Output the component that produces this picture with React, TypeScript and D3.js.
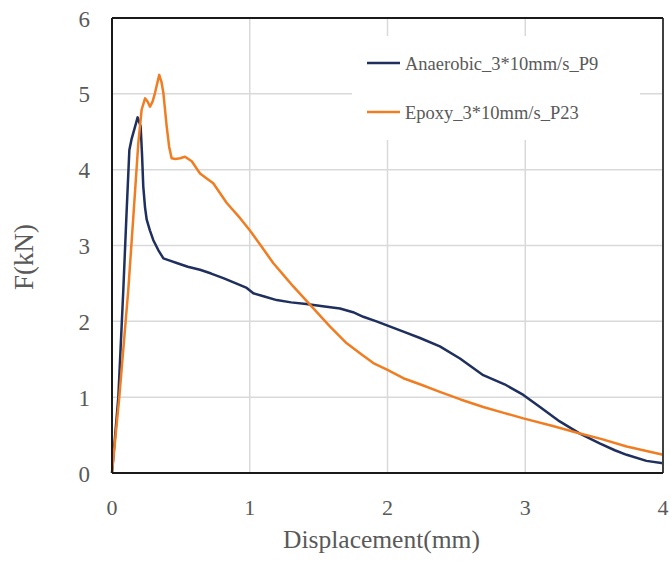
import React from "react";
import * as d3 from "d3";

const xTicks = [0, 1, 2, 3, 4];
const yTicks = [0, 1, 2, 3, 4, 5, 6];

const anaerobicX = [0, 0.046, 0.082, 0.105, 0.126, 0.143, 0.165, 0.186, 0.208, 0.218, 0.227, 0.24, 0.252, 0.275, 0.3, 0.336, 0.373, 0.42, 0.47, 0.55, 0.639, 0.72, 0.808, 0.9, 0.978, 1.026, 1.1, 1.195, 1.3, 1.41, 1.53, 1.655, 1.75, 1.824, 1.92, 2.02, 2.12, 2.236, 2.38, 2.526, 2.695, 2.85, 2.986, 3.107, 3.25, 3.397, 3.54, 3.65, 3.736, 3.88, 4.0];
const anaerobicY = [0, 1.0, 2.41, 3.4, 4.26, 4.41, 4.55, 4.69, 4.57, 4.2, 3.78, 3.5, 3.34, 3.2, 3.07, 2.94, 2.83, 2.8, 2.77, 2.72, 2.68, 2.63, 2.57, 2.5, 2.44, 2.37, 2.33, 2.28, 2.25, 2.23, 2.2, 2.17, 2.12, 2.06, 2.0, 1.93, 1.86, 1.78, 1.67, 1.51, 1.29, 1.17, 1.03, 0.87, 0.68, 0.52, 0.39, 0.3, 0.24, 0.16, 0.13];

const epoxyX = [0, 0.053, 0.118, 0.155, 0.191, 0.215, 0.24, 0.258, 0.276, 0.295, 0.312, 0.343, 0.36, 0.373, 0.397, 0.415, 0.433, 0.46, 0.494, 0.53, 0.579, 0.639, 0.69, 0.735, 0.833, 0.93, 1.0, 1.08, 1.17, 1.25, 1.316, 1.437, 1.583, 1.704, 1.8, 1.897, 2.0, 2.115, 2.25, 2.38, 2.53, 2.695, 2.85, 2.986, 3.2, 3.397, 3.55, 3.736, 3.88, 4.0];
const epoxyY = [0, 1.0, 2.41, 3.38, 4.35, 4.79, 4.94, 4.9, 4.83, 4.9, 5.01, 5.25, 5.15, 5.01, 4.57, 4.3, 4.15, 4.14, 4.15, 4.17, 4.11, 3.95, 3.88, 3.82, 3.56, 3.36, 3.2, 3.0, 2.77, 2.6, 2.46, 2.22, 1.93, 1.71, 1.58, 1.45, 1.36, 1.25, 1.16, 1.07, 0.97, 0.87, 0.79, 0.72, 0.62, 0.52, 0.45, 0.35, 0.29, 0.24];

const seriesNames = ["Anaerobic_3*10mm/s_P9", "Epoxy_3*10mm/s_P23"];
const seriesColors = ["#1F2F5E", "#F07D22"];

const W = 670;
const H = 562;
const M = { left: 112, top: 18, right: 663, bottom: 473 };

export default function App() {
  const x = d3.scaleLinear().domain([0, 4]).range([M.left, M.right]);
  const y = d3.scaleLinear().domain([0, 6]).range([M.bottom, M.top]);
  const line = d3
    .line<[number, number]>()
    .x((d) => x(d[0]))
    .y((d) => y(d[1]));
  const series = [
    anaerobicX.map((v, i) => [v, anaerobicY[i]] as [number, number]),
    epoxyX.map((v, i) => [v, epoxyY[i]] as [number, number]),
  ];
  const font = "'Liberation Serif', 'Times New Roman', serif";
  const textColor = "#595959";
  return (
    <svg
      width={W}
      height={H}
      style={{ position: "absolute", left: 0, top: 0, background: "#fff" }}
    >
      <rect x={0} y={0} width={W} height={H} fill="#fff" />
      {xTicks.slice(1, -1).map((t) => (
        <line key={"gx" + t} x1={x(t)} x2={x(t)} y1={M.top} y2={M.bottom} stroke="#d9d9d9" strokeWidth={1.5} />
      ))}
      {yTicks.slice(1, -1).map((t) => (
        <line key={"gy" + t} x1={M.left} x2={M.right} y1={y(t)} y2={y(t)} stroke="#d9d9d9" strokeWidth={1.5} />
      ))}
      <rect x={352} y={36} width={288} height={104} fill="#fff" />
      {series.map((s, i) => (
        <path key={i} d={line(s) || ""} fill="none" stroke={seriesColors[i]} strokeWidth={2.5} strokeLinejoin="round" />
      ))}
      <line x1={M.right} x2={M.right} y1={M.top} y2={M.bottom} stroke="#404040" strokeWidth={2} />
      <line x1={M.left} x2={M.right} y1={M.top} y2={M.top} stroke="#1a1a1a" strokeWidth={2} />
      <line x1={M.left} x2={M.left} y1={M.top} y2={M.bottom} stroke="#1a1a1a" strokeWidth={2} />
      <line x1={M.left} x2={M.right} y1={M.bottom} y2={M.bottom} stroke="#1a1a1a" strokeWidth={2} />
      {yTicks.map((t) => (
        <text key={"ty" + t} x={90} y={y(t) + 8.5} textAnchor="end" fontFamily={font} fontSize={23} fill={textColor}>
          {t}
        </text>
      ))}
      {xTicks.map((t) => (
        <text key={"tx" + t} x={x(t)} y={515} textAnchor="middle" fontFamily={font} fontSize={22} fill={textColor}>
          {t}
        </text>
      ))}
      <text x={381.5} y={548} textAnchor="middle" fontFamily={font} fontSize={25.5} fill={textColor}>
        Displacement(mm)
      </text>
      <text
        transform={`translate(33,${257}) rotate(-90)`}
        textAnchor="middle"
        fontFamily={font}
        fontSize={27}
        fill={textColor}
      >
        F(kN)
      </text>
      {seriesNames.map((n, i) => (
        <g key={n}>
          <line x1={367} x2={400} y1={63 + i * 49} y2={63 + i * 49} stroke={seriesColors[i]} strokeWidth={2.5} />
          <text x={405} y={70 + i * 49} fontFamily={font} fontSize={18.5} fill={textColor}>
            {n}
          </text>
        </g>
      ))}
    </svg>
  );
}
